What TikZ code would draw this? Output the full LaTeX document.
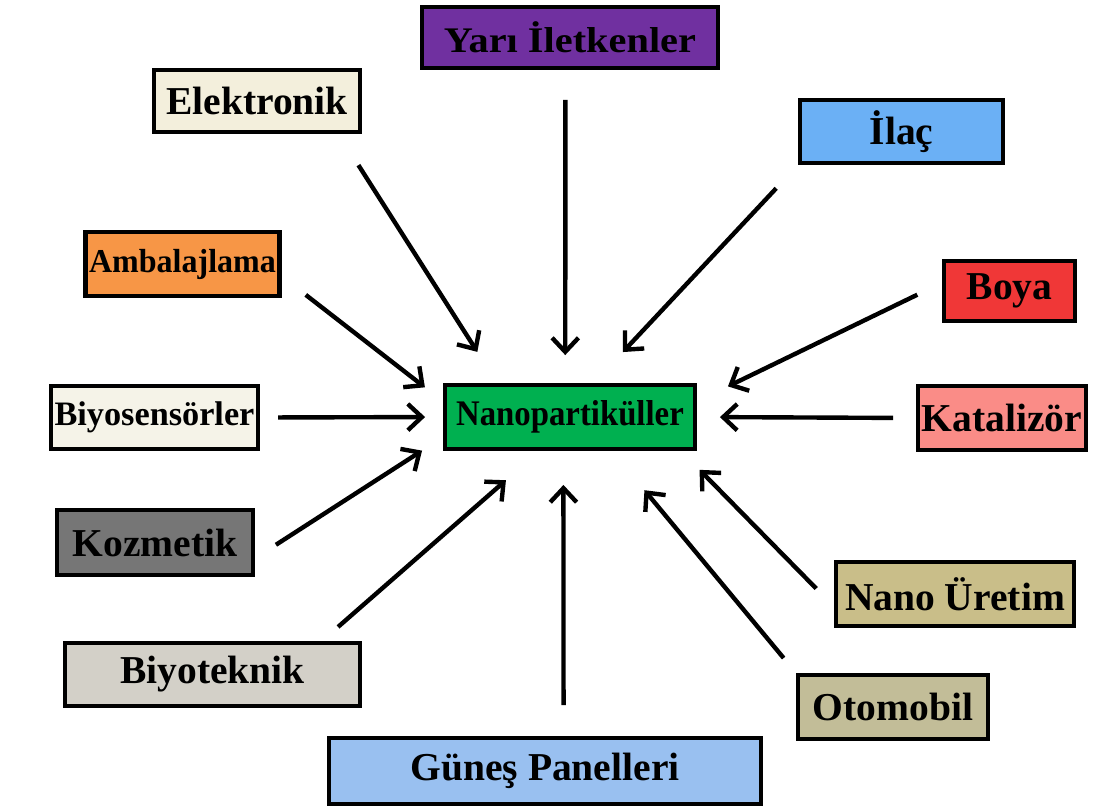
\documentclass[tikz,border=0pt]{standalone}
\usepackage{fontspec}
\setmainfont{Liberation Serif}
\usepackage{graphicx}
\usetikzlibrary{arrows.meta}

\definecolor{cYari}{RGB}{112,48,160}
\definecolor{cElek}{RGB}{243,239,220}
\definecolor{cIlac}{RGB}{107,176,245}
\definecolor{cAmb}{RGB}{247,150,70}
\definecolor{cBoya}{RGB}{240,55,55}
\definecolor{cBio}{RGB}{245,243,232}
\definecolor{cNano}{RGB}{0,176,80}
\definecolor{cKat}{RGB}{250,140,135}
\definecolor{cKoz}{RGB}{118,118,118}
\definecolor{cNU}{RGB}{201,190,137}
\definecolor{cBiyo}{RGB}{211,208,200}
\definecolor{cOto}{RGB}{194,189,152}
\definecolor{cGun}{RGB}{153,192,240}

\begin{document}
\begin{tikzpicture}[x=0.02cm,y=-0.02cm,
  item/.style={draw=black,line width=2.5pt,inner sep=2pt,
    font=\bfseries\fontsize{22.5}{26}\selectfont},
  arr/.style={line width=2.5pt,-{Straight Barb[length=8pt,width=15pt]}}]
\useasboundingbox (0,0) rectangle (1093,812);
% boxes
\node[item,fill=cYari,minimum width=5.91cm,minimum height=1.21cm] (yari) at (570,37.5)
  {\fontsize{20.5}{22}\selectfont\scalebox{1.12}[1]{Yarı İletkenler}};
\node[item,fill=cElek,minimum width=4.11cm,minimum height=1.23cm] (elek) at (257,101) {Elektronik};
\node[item,fill=cIlac,minimum width=4.05cm,minimum height=1.25cm] (ilac) at (901.5,131.5) {İlaç};
\node[item,fill=cAmb,minimum width=3.85cm,minimum height=1.27cm] (amb) at (182.5,264)
  {\fontsize{19}{21}\selectfont\scalebox{0.96}[1]{Ambalajlama}};
\node[item,fill=cBoya,minimum width=2.61cm,minimum height=1.19cm] (boya) at (1009.5,291) {Boya};
\node[item,fill=cBio,minimum width=4.13cm,minimum height=1.25cm] (bio) at (154.5,417.5)
  {\fontsize{19.5}{22}\selectfont Biyosensörler};
\node[item,fill=cNano,minimum width=4.99cm,minimum height=1.27cm] (nano) at (570,417)
  {\fontsize{20.5}{22}\selectfont\scalebox{0.91}[1]{Nanopartiküller}};
\node[item,fill=cKat,minimum width=3.35cm,minimum height=1.27cm] (kat) at (1002,418) {Katalizör};
\node[item,fill=cKoz,minimum width=3.91cm,minimum height=1.29cm] (koz) at (155,542.5) {Kozmetik};
\node[item,fill=cNU,minimum width=4.75cm,minimum height=1.27cm] (nu) at (955,594) {Nano Üretim};
\node[item,fill=cBiyo,minimum width=5.89cm,minimum height=1.25cm] (biyo) at (212.5,674.5) {Biyoteknik};
\node[item,fill=cOto,minimum width=3.79cm,minimum height=1.27cm] (oto) at (893,707) {Otomobil};
\node[item,fill=cGun,minimum width=8.63cm,minimum height=1.31cm] (gun) at (545,771) {Güneş Panelleri};
% arrows into the centre
\draw[arr,shorten <=0.60cm,shorten >=0.56cm] (yari.-98.7) -- (nano.98.4);
\draw[arr,shorten <=0.74cm,shorten >=0.74cm] (elek.-22.2) -- (nano.155.3);
\draw[arr,shorten <=0.64cm,shorten >=0.85cm] (ilac.south west) -- (nano.55.9);
\draw[arr,shorten <=0.61cm,shorten >=0.46cm] (amb.-7.2) -- (nano.173.3);
\draw[arr,shorten <=0.55cm,shorten >=0.69cm] (boya.173.2) -- (nano.7.2);
\draw[arr,shorten <=0.36cm,shorten >=0.36cm] (bio.east) -- (nano.west);
\draw[arr,shorten <=0.46cm,shorten >=0.46cm] (kat.west) -- (nano.east);
\draw[arr,shorten <=0.50cm,shorten >=0.50cm] (koz.-9.6) -- (nano.189.6);
\draw[arr,shorten <=0.51cm,shorten >=0.53cm] (nu.186.6) -- (nano.-17.3);
\draw[arr,shorten <=0.43cm,shorten >=0.89cm] (biyo.17.9) -- (nano.-132.4);
\draw[arr,shorten <=0.39cm,shorten >=1.02cm] (oto.north west) -- (nano.-39);
\draw[arr,shorten <=0.62cm,shorten >=0.68cm] (gun.62.8) -- (nano.-101.6);
\end{tikzpicture}
\end{document}
